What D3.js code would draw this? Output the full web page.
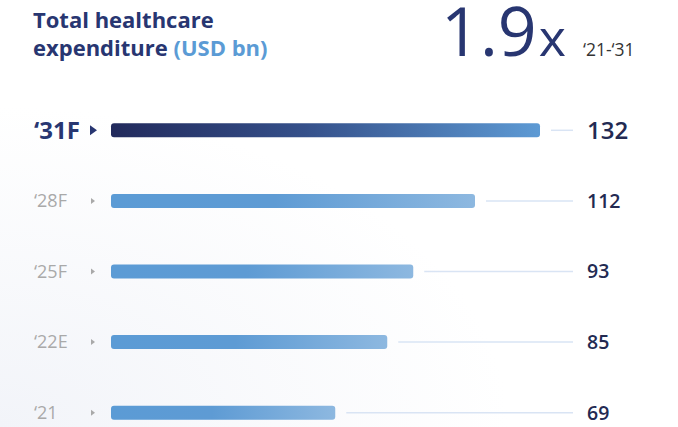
<!DOCTYPE html>
<html>
<head>
<meta charset="utf-8">
<script src="https://cdn.jsdelivr.net/npm/d3@7"></script>
<style>
  html, body { margin: 0; padding: 0; background: #fff; }
  svg { display: block; font-family: "Open Sans", "Noto Sans", sans-serif; }
</style>
</head>
<body>
<svg id="chart"></svg>
<script>
const years = ["'31F", "'28F", "'25F", "'22E", "'21"];
const values = [132, 112, 93, 85, 69];
const highlight = [true, false, false, false, false];

const width = 678, height = 427;
const svg = d3.select("#chart").attr("width", width).attr("height", height);
const defs = svg.append("defs");

// faint wash in the lower left
const bg = defs.append("radialGradient").attr("id", "bg-wash")
    .attr("cx", "0%").attr("cy", "100%").attr("r", "75%");
bg.append("stop").attr("offset", "0%").attr("stop-color", "#f2f4f9");
bg.append("stop").attr("offset", "100%").attr("stop-color", "#ffffff");
svg.append("rect").attr("width", width).attr("height", height).attr("fill", "url(#bg-wash)");

const gDark = defs.append("linearGradient").attr("id", "bar-dark");
gDark.append("stop").attr("offset", "0%").attr("stop-color", "#222a5c");
gDark.append("stop").attr("offset", "45%").attr("stop-color", "#35508a");
gDark.append("stop").attr("offset", "100%").attr("stop-color", "#5d9ad4");

const gLight = defs.append("linearGradient").attr("id", "bar-light");
gLight.append("stop").attr("offset", "0%").attr("stop-color", "#5b9bd5");
gLight.append("stop").attr("offset", "45%").attr("stop-color", "#5e9bd4");
gLight.append("stop").attr("offset", "100%").attr("stop-color", "#8db8e0");

// title
const title = svg.append("text").attr("font-weight", 700)
    .attr("font-size", 22).attr("fill", "#283671");
title.append("tspan").attr("x", 33).attr("y", 28).text("Total healthcare");
const t2 = title.append("tspan").attr("x", 33).attr("y", 56).text("expenditure ");
t2.append("tspan").attr("fill", "#5b9bd5").text("(USD bn)");

// growth callout
const growth = svg.append("text").attr("x", 441).attr("y", 56).attr("fill", "#283671");
growth.append("tspan").attr("font-size", 68).text("1.9");
growth.append("tspan").attr("font-size", 52).attr("dx", 2).text("x");
svg.append("text").attr("x", 583).attr("y", 56).attr("font-size", 17.5)
    .attr("fill", "#333").text("\u201821-\u201831");

const x = d3.scaleLinear().domain([0, 132]).range([111, 540]);
const y = d3.scaleBand().domain(years).range([95, 448]).paddingInner(0);
const barH = 14;
const lineEnd = 573;

const rows = svg.append("g").selectAll("g").data(years).join("g")
    .attr("transform", d => `translate(0,${y(d) + y.bandwidth() / 2})`);

rows.append("rect")
    .attr("x", x(0)).attr("y", -barH / 2)
    .attr("width", (d, i) => x(values[i]) - x(0)).attr("height", barH)
    .attr("rx", 3)
    .attr("fill", (d, i) => highlight[i] ? "url(#bar-dark)" : "url(#bar-light)");

rows.append("line")
    .attr("x1", (d, i) => x(values[i]) + 11).attr("x2", lineEnd)
    .attr("y1", 0).attr("y2", 0)
    .attr("stroke", "#d9e4f4").attr("stroke-width", 1.5);

rows.append("text")
    .attr("x", 34).attr("dy", "0.35em")
    .attr("font-size", (d, i) => highlight[i] ? 24 : 18)
    .attr("font-weight", (d, i) => highlight[i] ? 700 : 400)
    .attr("fill", (d, i) => highlight[i] ? "#283671" : "#a9a9a9")
    .text(d => d.replace("'", "\u2018"));

rows.append("path")
    .attr("d", (d, i) => highlight[i] ? "M90,-5L97,0L90,5Z" : "M91,-3L95,0L91,3Z")
    .attr("fill", (d, i) => highlight[i] ? "#283671" : "#a9a9a9");

rows.append("text")
    .attr("x", 587).attr("dy", "0.35em")
    .attr("font-size", (d, i) => highlight[i] ? 24 : 19.5)
    .attr("font-weight", 600)
    .attr("fill", "#232a52")
    .text((d, i) => values[i]);
</script>
</body>
</html>
